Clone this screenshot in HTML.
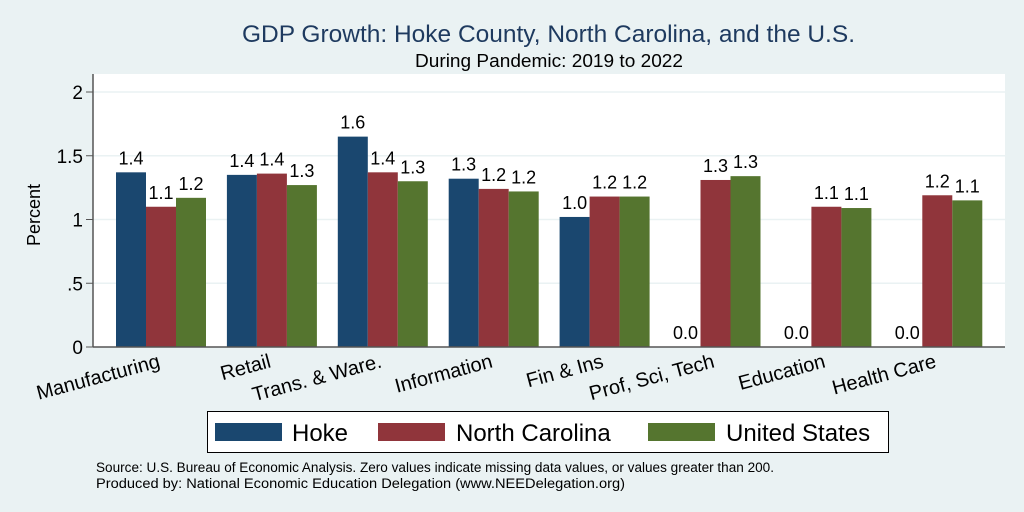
<!DOCTYPE html>
<html><head><meta charset="utf-8"><style>
body{margin:0;background:#eaf2f3;}
svg{display:block;font-family:"Liberation Sans",Arial,sans-serif;}
</style></head><body>
<svg id="chart" width="1024" height="512" viewBox="0 0 1024 512">
<rect x="0" y="0" width="1024" height="512" fill="#eaf2f3"/>
<text x="242" y="42" font-size="24" fill="#1e3a5f" textLength="613" lengthAdjust="spacingAndGlyphs">GDP Growth: Hoke County, North Carolina, and the U.S.</text>
<text x="415" y="67" font-size="18" fill="#000" textLength="268" lengthAdjust="spacingAndGlyphs">During Pandemic: 2019 to 2022</text>
<rect x="93" y="74" width="912" height="273" fill="#fff"/>
<g id="grid"></g><g id="bars"></g><g id="axes"></g>
<text transform="translate(40,215) rotate(-90)" font-size="18" text-anchor="middle">Percent</text>
<rect x="207.5" y="411.5" width="681" height="41" fill="#fff" stroke="#000" stroke-width="1"/>
<g id="legend"></g>
<text x="96" y="472" font-size="13.5" textLength="678" lengthAdjust="spacingAndGlyphs">Source: U.S. Bureau of Economic Analysis. Zero values indicate missing data values, or values greater than 200.</text>
<text x="96" y="488" font-size="13.5" textLength="529" lengthAdjust="spacingAndGlyphs">Produced by: National Economic Education Delegation (www.NEEDelegation.org)</text>
</svg>
<script>
const categories=["Manufacturing","Retail","Trans. & Ware.","Information","Fin & Ins","Prof, Sci, Tech","Education","Health Care"];
const hoke=[1.37,1.35,1.65,1.32,1.02,0,0,0];
const northCarolina=[1.10,1.36,1.37,1.24,1.18,1.31,1.10,1.19];
const unitedStates=[1.17,1.27,1.30,1.22,1.18,1.34,1.09,1.15];
const seriesNames=["Hoke","North Carolina","United States"];
const yTicks=[0,0.5,1,1.5,2];
const yTickLabels=["0",".5","1","1.5","2"];
const colors=["#1a476f","#90353b","#55752f"];
const NS="http://www.w3.org/2000/svg";
const y0=347,yScale=127.5;
const y=v=>y0-v*yScale;
const gx0=116,gPitch=110.9,bw=30;
const x=(i,s)=>gx0+i*gPitch+s*bw;
function mk(tag,attrs,parent){const e=document.createElementNS(NS,tag);for(const k in attrs)e.setAttribute(k,attrs[k]);document.getElementById(parent).appendChild(e);return e;}
yTicks.forEach((t,i)=>{
  if(t>0){const g=mk("line",{x1:93,x2:1005,y1:y(t),y2:y(t),stroke:"#eaf2f3","stroke-width":1.5},"grid");
  
  }
  const tk=mk("line",{x1:86,x2:93,y1:y(t),y2:y(t),stroke:"#555","stroke-width":1},"axes");
  
  
  const tl=mk("text",{x:83,y:y(t)+7,"font-size":19,"text-anchor":"end"},"axes");
  tl.textContent=yTickLabels[i];
  
  
});
const ax=mk("line",{x1:93,x2:93,y1:74,y2:347,stroke:"#555","stroke-width":1.5},"axes");


const bx=mk("line",{x1:93,x2:1005,y1:347,y2:347,stroke:"#555","stroke-width":1.5},"axes");


const series=[hoke,northCarolina,unitedStates];
categories.forEach((c,i)=>{
  series.forEach((arr,s)=>{
    const v=arr[i];
    const r=mk("rect",{x:x(i,s),y:y(v),width:bw,height:v*yScale,fill:colors[s]},"bars");
    
    
    const t=mk("text",{x:x(i,s)+bw/2,y:y(v)-8,"font-size":18,"text-anchor":"middle"},"bars");
    t.textContent=v.toFixed(1);
    
    
  });
  const cx=x(i,1.5),cy=367;
  const l=mk("text",{x:cx,y:cy,"font-size":20,"text-anchor":"end",transform:`rotate(-15 ${cx} ${cy})`},"axes");
  l.textContent=c;
  
  
});
const legX=[215,378,648],legTX=[292,456,726];
seriesNames.forEach((n,s)=>{
  const r=mk("rect",{x:legX[s],y:423,width:67,height:18,fill:colors[s]},"legend");
  
  
  const t=mk("text",{x:legTX[s],y:441,"font-size":24},"legend");
  t.textContent=n;
  
  
});
</script>
</body></html>
